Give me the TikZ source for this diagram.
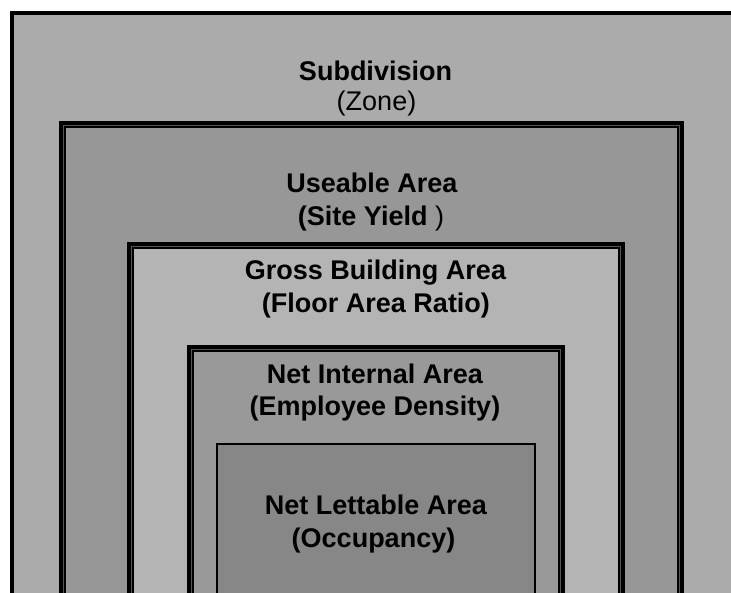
\documentclass[tikz,border=0pt]{standalone}
\usepackage{fontspec}
\setmainfont{Liberation Sans}
\definecolor{zoneC}{HTML}{ABABAB}
\definecolor{useC}{HTML}{979797}
\definecolor{grossC}{HTML}{B4B4B4}
\definecolor{netC}{HTML}{999999}
\definecolor{letC}{HTML}{878787}
\definecolor{gapC}{HTML}{555555}
\begin{document}
\begin{tikzpicture}[x=1pt,y=-1pt,
  heavyline/.style={line width=7pt,draw=black},
  gapline/.style={line width=0.9pt,draw=gapC},
  edgeline/.style={line width=4pt,draw=black},
  thinline/.style={line width=2pt,draw=black},
  lbl/.style={anchor=base,inner sep=0pt,font=\fontsize{27}{32}\selectfont\bfseries},
  lblr/.style={anchor=base,inner sep=0pt,font=\fontsize{27}{32}\selectfont}]
\useasboundingbox (0,0) rectangle (731,593);
\clip (0,0) rectangle (731,593);
% Subdivision
\fill[zoneC] (12,13.5) rectangle (740,600);
\draw[edgeline] (12,600) -- (12,13.5) -- (740,13.5);
% Useable area
\fill[useC] (59,121) rectangle (684,600);
\draw[heavyline] (62.5,600) -- (62.5,124.5) -- (680.5,124.5) -- (680.5,600);
\draw[gapline] (63.5,600) -- (63.5,125.5) -- (679.5,125.5) -- (679.5,600);
% Gross building area
\fill[grossC] (127,242) rectangle (625,600);
\draw[heavyline] (130.5,600) -- (130.5,245.5) -- (621.5,245.5) -- (621.5,600);
\draw[gapline] (131.5,600) -- (131.5,246.5) -- (620.5,246.5) -- (620.5,600);
% Net internal area
\fill[netC] (187,345) rectangle (565,600);
\draw[heavyline] (190.5,600) -- (190.5,348.5) -- (561.5,348.5) -- (561.5,600);
\draw[gapline] (191.5,600) -- (191.5,349.5) -- (560.5,349.5) -- (560.5,600);
% Net lettable area
\fill[letC] (217,444) rectangle (535,600);
\draw[thinline] (217,600) -- (217,444) -- (535,444) -- (535,600);
% labels
\node[lbl] (sub) at (375.5,81) {Subdivision};
\node[lblr] (zone) at (376.5,111) {(Zone)};
\node[lbl] (use) at (372,193) {Useable Area};
\node[lblr] (yield) at (371,226) {\textbf{(Site Yield} )};
\node[lbl] (gross) at (375.5,280) {Gross Building Area};
\node[lbl] (far) at (376,313) {(Floor Area Ratio)};
\node[lbl] (nia) at (375,384) {Net Internal Area};
\node[lbl] (dens) at (375,416) {(Employee Density)};
\node[lbl] (nla) at (376,514) {Net Lettable Area};
\node[lbl] (occ) at (373.5,547) {(Occupancy)};
\end{tikzpicture}
\end{document}
